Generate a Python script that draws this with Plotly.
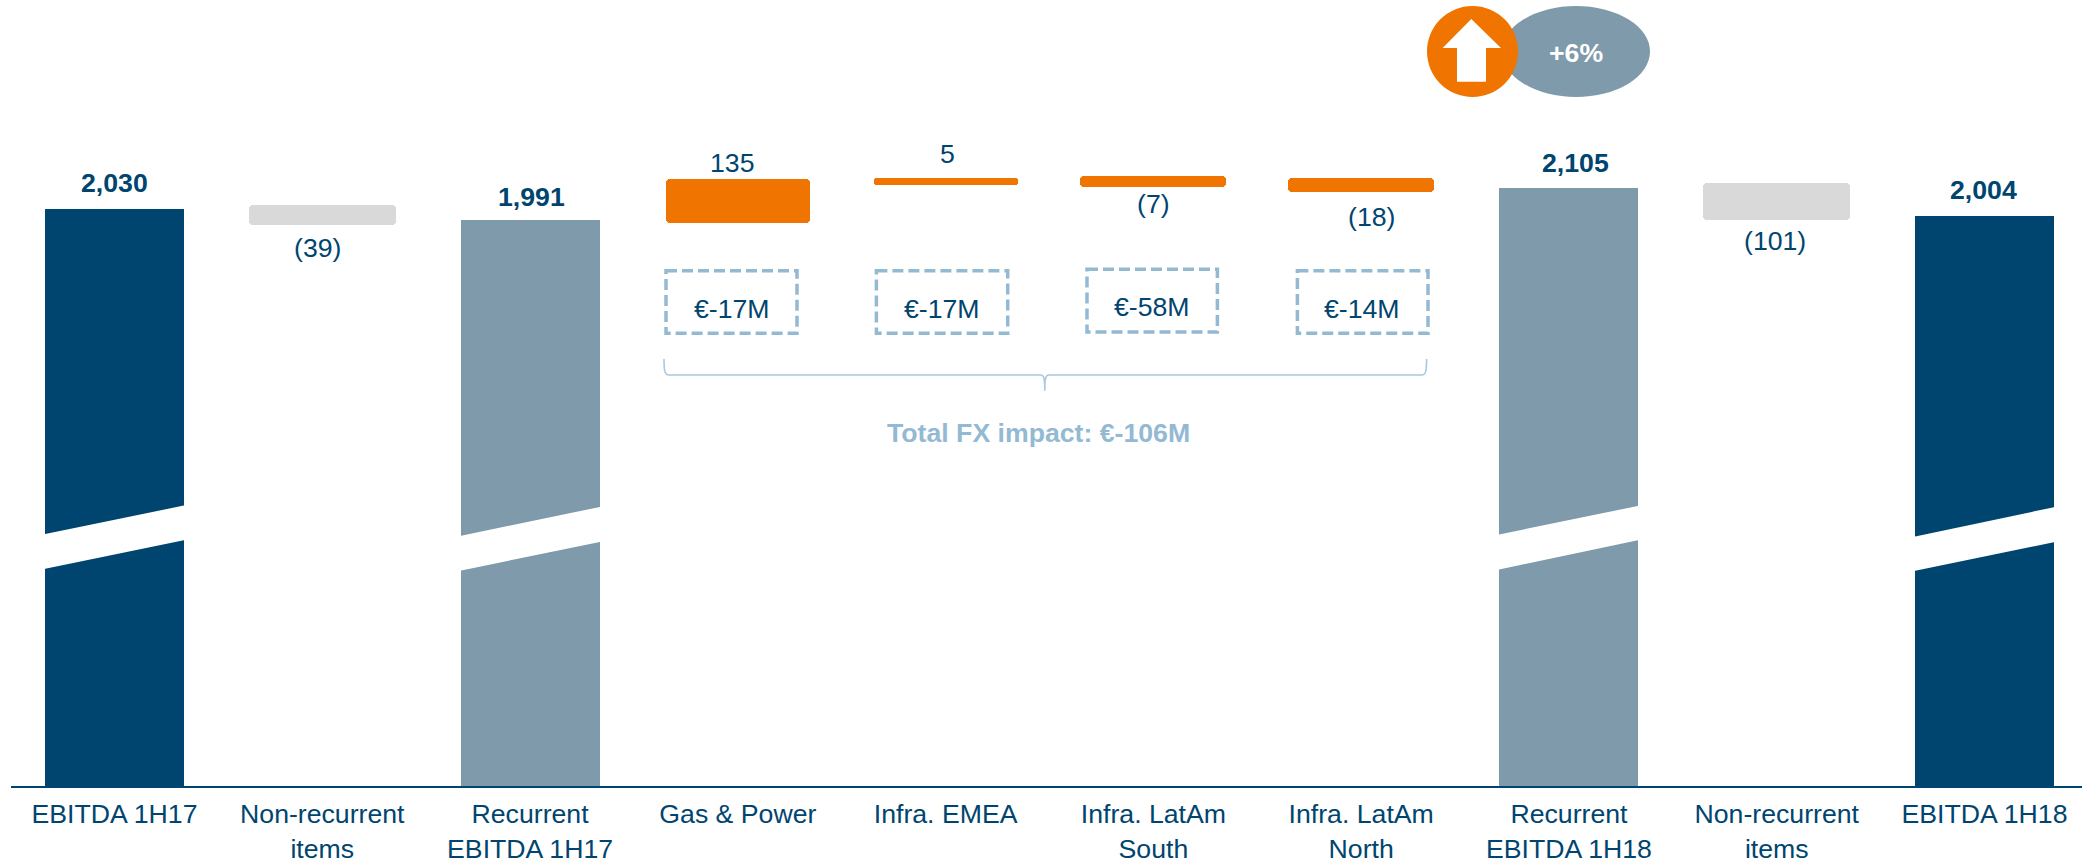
import plotly.graph_objects as go

# ---------- data ----------
categories = ["EBITDA 1H17", "Non-recurrent<br>items", "Recurrent<br>EBITDA 1H17", "Gas &amp; Power",
              "Infra. EMEA", "Infra. LatAm<br>South", "Infra. LatAm<br>North",
              "Recurrent<br>EBITDA 1H18", "Non-recurrent<br>items", "EBITDA 1H18"]
positions = list(range(10))

total_idx = [0, 2, 7, 9]
total_values = [2030, 1991, 2105, 2004]

float_idx = [1, 3, 4, 5, 6, 8]
float_values = [-39, 135, 5, -7, -18, -101]
# extents of the floating blocks as drawn, read on the same axis
float_bottom = [1975, 1982, 2116, 2109, 2091, 1990]
float_top = [2044, 2135, 2139, 2145, 2138, 2121]

fx_idx = [3, 4, 5, 6]
fx_impact = [-17, -17, -58, -14]
fx_total = -106
growth = "+6%"

# ---------- style ----------
NAVY = "#00456F"
STEEL = "#7F9AAB"
ORANGE = "#F07400"
GREY = "#D9D9D9"
PALE = "#93B9D3"
BRACE = "#A9C8DE"
FONT = "Liberation Sans"
FS = 26.67
W, H = 2082, 865
BASE_PX = 786
L_PX = 11
PX_PER_UNIT = 0.2842
STEP = 207.78
X0_PX = 114.5


def dx(px):
    return (px - X0_PX) / STEP


def dy(px):
    return (BASE_PX - px) / PX_PER_UNIT


fig = go.Figure()

# totals (square corners)
fig.add_trace(go.Bar(
    x=total_idx, y=total_values,
    marker=dict(color=[NAVY, STEEL, STEEL, NAVY], line_width=0),
    width=[139 / STEP] * 4, showlegend=False, hoverinfo="skip"))

# floating blocks (rounded corners)
fig.add_trace(go.Bar(
    x=float_idx, base=float_bottom,
    y=[t - b for t, b in zip(float_top, float_bottom)],
    marker=dict(color=[GREY, ORANGE, ORANGE, ORANGE, ORANGE, GREY], line_width=0, cornerradius=4),
    width=[146.5 / STEP, 144 / STEP, 144 / STEP, 146 / STEP, 146 / STEP, 147 / STEP],
    showlegend=False, hoverinfo="skip"))

shapes = []

# axis-break bands on the tall bars
breaks = [
    (45, 184, 534.3, 505.3, 569, 540),
    (461, 600, 536, 506.7, 570.7, 541.7),
    (1499, 1638, 534.7, 505.7, 569.7, 540),
    (1915, 2054, 536.7, 507, 571, 542),
]
for x1, x2, ul, ur, ll, lr in breaks:
    x1 -= 1
    x2 += 1
    path = f"M {dx(x1)} {dy(ul)} L {dx(x2)} {dy(ur)} L {dx(x2)} {dy(lr)} L {dx(x1)} {dy(ll)} Z"
    shapes.append(dict(type="path", path=path, xref="x", yref="y", fillcolor="white",
                       line_width=0, layer="above"))

# dashed FX boxes
boxes = [(666, 797, 270.7, 333.3), (876.4, 1007.7, 270.7, 333.3),
         (1087, 1217.4, 269.3, 332), (1297.4, 1428, 270.7, 333.3)]
for x1, x2, y1, y2 in boxes:
    shapes.append(dict(type="rect", xref="x", yref="y", x0=dx(x1), x1=dx(x2), y0=dy(y1), y1=dy(y2),
                       line=dict(color=PALE, width=3.5, dash="11px,5px"), fillcolor="rgba(0,0,0,0)"))

# brace
bl, br, bc, bt, bm, bb = 664, 1426.6, 1044.8, 359, 375, 390.7
brace = (f"M {dx(bl)} {dy(bt)} C {dx(bl)} {dy(bm - 3)} {dx(bl + 1)} {dy(bm)} {dx(bl + 5)} {dy(bm)} "
         f"L {dx(bc - 4)} {dy(bm)} C {dx(bc - 1)} {dy(bm)} {dx(bc)} {dy(bm + 3)} {dx(bc)} {dy(bb)} "
         f"C {dx(bc)} {dy(bm + 3)} {dx(bc + 1)} {dy(bm)} {dx(bc + 4)} {dy(bm)} "
         f"L {dx(br - 5)} {dy(bm)} C {dx(br - 1)} {dy(bm)} {dx(br)} {dy(bm - 3)} {dx(br)} {dy(bt)}")
shapes.append(dict(type="path", path=brace, xref="x", yref="y", line=dict(color=BRACE, width=1.6)))

# growth badge
shapes.append(dict(type="circle", xref="x", yref="y", x0=dx(1502), x1=dx(1650), y0=dy(6), y1=dy(97),
                   fillcolor=STEEL, line_width=0, layer="above"))
shapes.append(dict(type="circle", xref="x", yref="y", x0=dx(1427), x1=dx(1518), y0=dy(6), y1=dy(97),
                   fillcolor=ORANGE, line_width=0, layer="above"))
arrow = [(1471.3, 19), (1501, 48), (1486, 48), (1486, 81.7), (1457, 81.7), (1457, 48), (1442.6, 48)]
path = "M " + " L ".join(f"{dx(a)} {dy(b)}" for a, b in arrow) + " Z"
shapes.append(dict(type="path", path=path, xref="x", yref="y", fillcolor="white", line_width=0, layer="above"))

annotations = []


def note(text, xpx, ypx, color=NAVY, bold=False, size=FS):
    annotations.append(dict(
        text=f"<b>{text}</b>" if bold else text, x=dx(xpx), y=dy(ypx), xref="x", yref="y",
        showarrow=False, xanchor="center", yanchor="middle",
        font=dict(family=FONT, size=size, color=color)))


for v, (xp, yp) in zip(total_values, [(114.5, 182.7), (531.7, 196.7), (1575.3, 163.3), (1983.3, 190)]):
    note(f"{v:,}", xp, yp, bold=True)
for v, (xp, yp) in zip(float_values, [(317.4, 248.3), (731.5, 163.3), (947, 154.3),
                                      (1153.6, 204), (1371.7, 216.7), (1775, 240.7)]):
    note(f"({abs(v)})" if v < 0 else f"{v}", xp, yp)
for v, (xp, yp) in zip(fx_impact, [(731.5, 308.5), (941.8, 308.5), (1151.5, 307), (1361.7, 308.5)]):
    note(f"€{v}M", xp, yp)
note(f"Total FX impact: €{fx_total}M", 1038, 433, color=PALE, bold=True)
note(growth, 1576, 52.7, color="white", bold=True)

fig.update_layout(
    width=W, height=H, margin=dict(l=L_PX, r=0, t=0, b=H - BASE_PX, pad=0),
    paper_bgcolor="white", plot_bgcolor="white", showlegend=False, bargap=0,
    barmode="overlay", shapes=shapes, annotations=annotations,
    xaxis=dict(range=[dx(L_PX), dx(W)], tickmode="array", tickvals=positions, ticktext=categories,
               showgrid=False, zeroline=False, showline=True, linecolor=NAVY, linewidth=2, ticks="",
               ticklabelstandoff=3, tickangle=0, tickfont=dict(family=FONT, size=FS, color=NAVY),
               automargin=False),
    yaxis=dict(range=[0, BASE_PX / PX_PER_UNIT], visible=False, fixedrange=True),
)

fig.write_html("out.html", config={"displayModeBar": False},
               post_script="document.body.style.margin='0';")
